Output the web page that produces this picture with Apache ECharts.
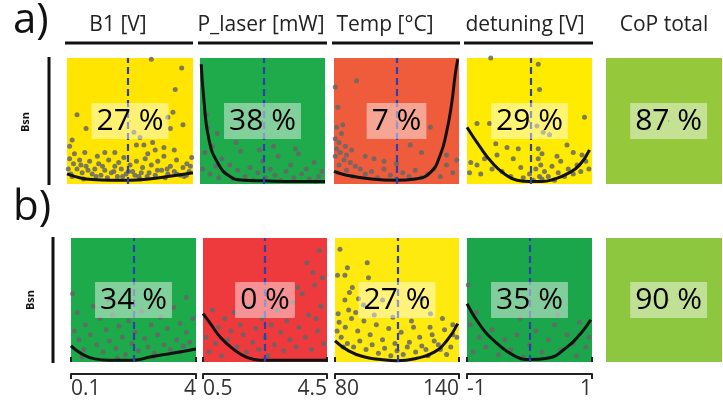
<!DOCTYPE html>
<html><head><meta charset="utf-8">
<script src="https://cdn.jsdelivr.net/npm/echarts@6/dist/echarts.min.js"></script>
<style>html,body{margin:0;padding:0;background:#fff}#c{width:723px;height:406px}</style>
</head><body><div id="c"></div>
<script>
// ---------- data ----------
const columns = ['B1 [V]', 'P_laser [mW]', 'Temp [°C]', 'detuning [V]', 'CoP total'];
const rowLabels = ['a)', 'b)'];
const yName = 'Bsn';
const xRanges = [[0.1, 4], [0.5, 4.5], [80, 140], [-1, 1]];
const tickLabels = [['0.1', '4'], ['0.5', '4.5'], ['80', '140'], ['-1', '1']];
const pctA = [27, 38, 7, 29];
const pctB = [34, 0, 27, 35];
const totalA = 87;
const totalB = 90;
const optA = [1.97, 2.54, 110, 0.02];
const optB = [2.05, 2.5, 110.6, 0];

const ptsA1 = [[2.71,99],[3.65,92],[3.45,75],[0.41,55],[3.38,57],[3.69,47],[0.69,44],[3.22,53],[2.17,41],[2.36,37],[3.30,44],[2.25,31],[2.48,31],[2.75,33],[3.10,29],[0.26,35],[1.27,25],[1.58,25],[0.65,25],[3.42,27],[2.83,27],[0.18,30],
 [0.18,20],[0.30,16],[0.41,12],[0.49,19],[0.57,9],[0.69,14],[0.80,18],[0.88,8],[0.96,12],[1.08,16],[1.15,7],[1.27,11],[1.39,19],[1.47,9],[1.58,14],[1.66,6],[1.78,12],[1.86,21],[1.93,8],[2.05,15],[2.13,10],[2.25,18],[2.32,6],[2.44,13],[2.52,20],[2.64,9],[2.71,15],[2.83,7],[2.91,18],[3.03,11],[3.10,22],[3.22,8],[3.30,14],[3.42,10],[3.49,19],[3.61,7],[3.69,13],[3.81,16],[3.88,10],[3.96,21],[0.22,8],[0.61,4],[1.35,5],[2.36,4],[3.14,5],[3.73,6],[0.33,24],[1.04,22],[1.70,17],[2.60,24],
 [0.14,12],[0.26,6],[0.53,15],[0.75,11],[1.0,6],[1.2,14],[1.55,10],[1.82,6],[2.0,10],[2.2,7],[2.4,9],[2.58,6],[2.9,11],[3.2,12],[3.5,8],[3.8,7],[3.92,14]];
const curveA1 = [[0.1,8],[0.49,5],[0.88,3.5],[1.47,3],[2.05,3],[2.64,4],[3.22,6],[4,9]];

const ptsA2 = [[0.58,12],[0.66,25],[0.74,45],[0.82,8],[0.9,30],[1.0,14],[1.1,5],[1.2,20],[1.3,9],[1.45,15],[1.55,4],[1.7,11],[1.8,26],[1.95,6],[2.1,13],[2.2,3],[2.35,9],[2.5,18],[2.6,5],[2.75,12],[2.9,7],[3.0,22],[3.1,3],[3.25,10],[3.4,15],[3.5,5],[3.65,24],[3.75,8],[3.9,12],[4.0,4],[4.15,17],[4.3,6],[4.4,10],[2.85,30],[3.55,28],[1.65,33],[2.4,27],[4.2,2],[1.05,40],[0.7,55]];
const curveA2 = [[0.54,95],[0.62,68],[0.78,36],[1.06,17],[1.46,6],[1.9,3],[2.5,2.5],[3.5,2],[4.5,2]];

const ptsA3 = [[80.6,77],[81.8,61],[84.2,47],[81.2,45],[83.6,40],[80.6,36],[82.4,33],[85.4,30],[81.2,28],[83,25],[86,23],[88.4,27],[80.6,22],[84.8,19],[87.8,17],[82.4,15],[90.2,14],[86,11],[92.6,12],[81.8,9],[95,8],[89,6],[98,10],[101,5],[104,12],[107,7],[110,4],[113,9],[116,6],[119,11],[122,5],[125,8],[128,12],[131,6],[134,15],[137,9],[139,19],[126.2,45],[116.6,31],[134,23],[99.2,20],[104,18],[90.8,82],[122,25],[110,16],[95,22]];
const curveA3 = [[80,10],[86,7],[98,4],[110,3],[119,4],[126.2,9],[131,23],[134,41],[136.4,63],[138.2,87],[139.4,99]];

const ptsA4 = [[-0.62,100],[0.14,95],[0.16,75],[-0.84,48],[-0.64,48],[0.88,53],[0.12,46],[0.22,41],[0.32,39],[-0.54,32],[-0.36,29],[-0.18,28],[0.6,31],[0.7,25],[0.84,23],[-0.94,17],[-0.84,15],[-0.72,20],[-0.52,23],[-0.26,20],[-0.14,13],[-0.96,9],[-0.78,8],[-0.6,12],[-0.44,10],[-0.3,6],[-0.1,5],[0,8],[0.06,3],[0.1,12],[0.14,20],[0.14,28],[0.16,6],[0.18,15],[0.2,4],[0.24,10],[0.3,6],[0.36,14],[0.4,3],[0.46,9],[0.5,18],[0.56,6],[0.62,12],[0.7,8],[0.76,15],[0.82,10],[0.9,18],[0.95,12],[0.2,24],[0.44,22]];
const curveA4 = [[-1,45],[-0.8,30],[-0.6,17],[-0.4,8],[-0.2,3],[0,2],[0.2,2],[0.4,4],[0.6,8],[0.8,15],[0.96,27]];

const ptsB1 = [[0.2,25],[0.3,40],[0.35,18],[0.5,10],[0.55,30],[0.7,22],[0.8,45],[0.9,14],[1.0,35],[1.1,8],[1.2,26],[1.3,17],[1.4,38],[1.5,11],[1.6,29],[1.7,20],[1.8,6],[1.9,33],[2.0,15],[2.1,24],[2.2,9],[2.3,41],[2.4,19],[2.5,12],[2.6,30],[2.7,7],[2.8,22],[2.9,36],[3.0,14],[3.1,27],[3.2,10],[3.3,44],[3.4,18],[3.5,31],[3.6,13],[3.7,24],[3.8,16],[3.9,35],[0.15,55],[1.25,50],[3.7,52],[0.45,4],[1.55,3],[2.65,4],[3.5,8]];
const curveB1 = [[0.1,13],[0.41,7],[0.84,2.5],[1.27,1.5],[2.05,1.5],[2.6,4.3],[3.3,7.2],[4,10.5]];

const ptsB2 = [[0.6,20],[0.7,8],[0.8,42],[0.9,15],[1.0,28],[1.1,5],[1.2,35],[1.3,18],[1.4,25],[1.5,40],[1.6,12],[1.7,30],[1.8,22],[1.9,8],[2.0,45],[2.1,16],[2.2,27],[2.3,10],[2.4,35],[2.5,20],[2.6,5],[2.7,30],[2.8,14],[2.9,42],[3.0,24],[3.1,9],[3.2,33],[3.3,18],[3.4,48],[3.5,12],[3.6,28],[3.7,55],[3.8,20],[3.9,38],[4.0,10],[4.1,62],[4.2,25],[4.3,45],[4.4,15],[4.05,72],[4.35,68],[3.85,80],[4.25,90],[4.15,35],[3.55,60]];
const curveB2 = [[0.5,39],[0.74,31],[1.06,20],[1.5,10],[1.9,4],[2.34,1.5],[3,1.5],[4.5,1.5]];

const ptsB3 = [[82.4,91],[86,76],[95.6,80],[81.2,70],[84.8,70],[96.2,68],[88.4,60],[87,56],[84.8,50],[91.4,51],[81.5,39],[86.6,42],[93.8,46],[103,50],[122,51],[126.2,39],[132,35],[137,30],[82,32],[85,28],[88,35],[91,25],[94,33],[97,22],[100,30],[103,18],[106,27],[109,15],[112,24],[115,12],[118,28],[121,20],[124,10],[127,22],[130,14],[133,26],[136,12],[139,20],[83,20],[86,15],[89,12],[92,17],[95,10],[98,14],[101,7],[104,11],[107,5],[110,9],[113,6],[116,16],[119,8],[122,13],[125,5],[128,17],[131,10],[134,6],[137,22],[90,40],[99,38],[108,36],[117,33],[126,28],[81,25],[84,12]];
const curveB3 = [[80,17],[86.6,9],[94.4,4],[102.2,2],[110,1],[119.6,3],[128,8],[134,17],[139.4,31]];

const ptsB4 = [[-0.95,30],[-0.9,8],[-0.8,20],[-0.7,12],[-0.6,26],[-0.5,6],[-0.4,18],[-0.3,10],[-0.2,22],[-0.1,4],[0,14],[0.1,25],[0.2,8],[0.3,18],[0.4,30],[0.5,10],[0.6,22],[0.7,15],[0.8,32],[0.9,12],[-0.85,40],[0.45,38],[-0.15,35],[0.75,5],[0.95,20],[-0.98,62]];
const curveB4 = [[-1,47],[-0.78,29],[-0.52,15],[-0.24,5],[0.02,2],[0.28,3],[0.6,12],[0.82,23],[0.98,34]];

// ---------- layout / style ----------
const rowPts = [[ptsA1, ptsA2, ptsA3, ptsA4], [ptsB1, ptsB2, ptsB3, ptsB4]];
const rowCurves = [[curveA1, curveA2, curveA3, curveA4], [curveB1, curveB2, curveB3, curveB4]];
const rowPct = [pctA, pctB];
const rowTotal = [totalA, totalB];
const rowOpt = [optA, optB];
const bg = [['#FFE500', '#1FAA4C', '#EF5C3C', '#FFEB00', '#96C83C'],
            ['#1DAA4B', '#EE3A3C', '#FFEA10', '#1BA64C', '#8DC63F']];
const L = {
  top: [58, 238], h: [126, 124],
  left: [[67, 200, 334, 467, 606], [71, 203, 335, 467, 606]],
  w: [[126, 125, 125, 125, 116], [125, 124, 124, 125, 116]]
};
const FONT = "'Open Sans', 'Noto Sans', sans-serif";

const grid = [], xAxis = [], yAxis = [], series = [];
let gi = 0;
for (let r = 0; r < 2; r++) {
  for (let c = 0; c < 5; c++) {
    grid.push({ left: L.left[r][c], top: L.top[r], width: L.w[r][c], height: L.h[r],
      show: true, backgroundColor: bg[r][c], borderWidth: 0 });
    const isCop = c === 4;
    const rng = isCop ? [0, 100] : xRanges[c];
    const bottomAxis = (r === 1 && !isCop);
    xAxis.push({ type: 'value', gridIndex: gi, min: rng[0], max: rng[1], show: bottomAxis,
      position: 'bottom', offset: 12, splitLine: { show: false },
      axisLine: { show: true, onZero: false, lineStyle: { color: '#222', width: 2 } },
      axisTick: { show: true, length: 5, customValues: rng, lineStyle: { color: '#222', width: 2 } },
      axisLabel: { show: true, customValues: rng, margin: 5, fontSize: 21, color: '#333', fontFamily: FONT,
        alignMinLabel: 'left', alignMaxLabel: 'right',
        formatter: (v) => bottomAxis ? (Math.abs(v - rng[0]) < 1e-9 ? tickLabels[c][0] : tickLabels[c][1]) : '' } });
    yAxis.push({ type: 'value', gridIndex: gi, min: 0, max: 100, show: false });
    const ai = xAxis.length - 1;
    if (bottomAxis) {
      xAxis.push({ type: 'value', gridIndex: gi, min: rng[0], max: rng[1], show: true, position: 'bottom', offset: 12,
        splitLine: { show: false }, axisLine: { show: false },
        axisTick: { show: true, inside: true, length: 5, customValues: rng, lineStyle: { color: '#222', width: 2 } },
        axisLabel: { show: false } });
    }
    if (!isCop) {
      series.push({ type: 'scatter', xAxisIndex: ai, yAxisIndex: gi, data: rowPts[r][c], symbolSize: 5,
        itemStyle: { color: '#666', opacity: 0.85 }, silent: true, z: 2 });
      series.push({ type: 'line', xAxisIndex: ai, yAxisIndex: gi, data: rowCurves[r][c], smooth: 0.5, showSymbol: false,
        lineStyle: { color: '#111', width: 3 }, z: 3, clip: true,
        markLine: { silent: true, symbol: ['none', 'none'], label: { show: false },
          lineStyle: { color: '#2F40A8', type: [7, 4], width: 2.2 }, data: [{ xAxis: rowOpt[r][c] }] } });
    }
    const val = isCop ? rowTotal[r] : rowPct[r][c];
    const midX = isCop ? 54 : (rng[0] + rng[1]) / 2;
    series.push({ type: 'scatter', xAxisIndex: ai, yAxisIndex: gi, data: [[midX, 50]], symbolSize: 1,
      itemStyle: { color: '#000', opacity: 1 }, z: 10, silent: true,
      label: { show: true, position: 'inside', formatter: () => val + ' %', fontSize: 30, color: '#000', opacity: 1,
        textBorderWidth: 0, textShadowBlur: 0,
        fontFamily: FONT, backgroundColor: 'rgba(255,255,255,0.45)', padding: [1, 5, 0, 5], lineHeight: 35 } });
    gi++;
  }
}

// ---------- decorations ----------
const headerX = [118, 261, 385, 525, 664];
const headerLines = [[65, 193], [198, 327], [332, 460], [464, 593]];
const graphic = [];
columns.forEach((t, i) => graphic.push({ type: 'text', x: headerX[i], y: 25,
  style: { text: t, fontSize: 21, fontFamily: FONT, fill: '#222', align: 'center', verticalAlign: 'middle' } }));
headerLines.forEach(s => graphic.push({ type: 'line', shape: { x1: s[0], y1: 43, x2: s[1], y2: 43 },
  style: { stroke: '#111', lineWidth: 3 } }));
const rowLabelY = [21, 208];
rowLabels.forEach((t, i) => graphic.push({ type: 'text', x: 13, y: rowLabelY[i],
  style: { text: t, fontSize: 42, fontFamily: FONT, fill: '#111', align: 'left', verticalAlign: 'middle' } }));
const barX = [49, 53], barY = [[57, 185], [237, 363]], bsnPos = [[26, 122], [31, 300]];
for (let r = 0; r < 2; r++) {
  graphic.push({ type: 'line', shape: { x1: barX[r], y1: barY[r][0], x2: barX[r], y2: barY[r][1] },
    style: { stroke: '#111', lineWidth: 3 } });
  graphic.push({ type: 'text', x: bsnPos[r][0], y: bsnPos[r][1], rotation: Math.PI / 2,
    style: { text: yName, fontSize: 11, fontWeight: 'bold', fontFamily: FONT, fill: '#111', align: 'center', verticalAlign: 'middle' } });
}

const chart = echarts.init(document.getElementById('c'), null, { renderer: 'canvas' });
chart.setOption({ animation: false, backgroundColor: '#fff', grid, xAxis, yAxis, series, graphic });
</script></body></html>
